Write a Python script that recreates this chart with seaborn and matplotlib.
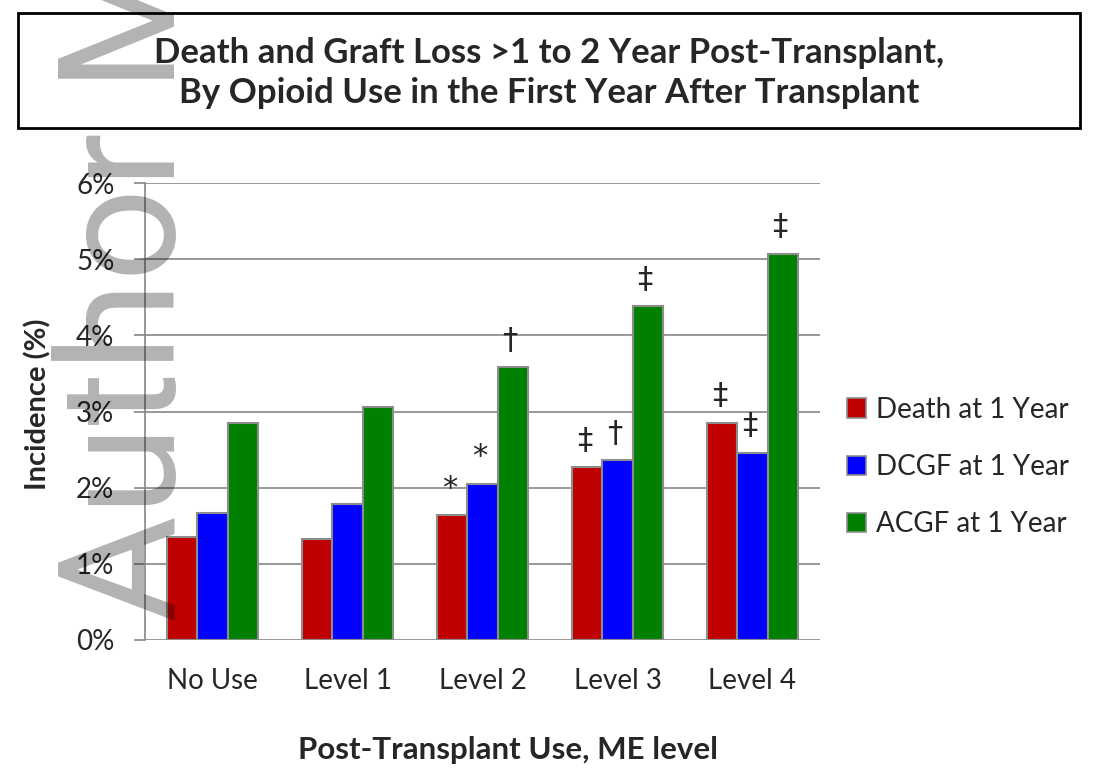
import matplotlib
matplotlib.use("Agg")
import matplotlib.pyplot as plt
import seaborn as sns
import pandas as pd
from matplotlib.patches import Rectangle, Patch

categories = ["No Use", "Level 1", "Level 2", "Level 3", "Level 4"]
series = ["Death at 1 Year", "DCGF at 1 Year", "ACGF at 1 Year"]
death = [1.35, 1.32, 1.64, 2.27, 2.85]
dcgf = [1.67, 1.79, 2.05, 2.36, 2.46]
acgf = [2.85, 3.06, 3.58, 4.38, 5.07]
marks_death = ["", "", "*", "‡", "‡"]
marks_dcgf = ["", "", "*", "†", "‡"]
marks_acgf = ["", "", "†", "‡", "‡"]
yticks = [0, 1, 2, 3, 4, 5, 6]
ytick_labels = ["0%", "1%", "2%", "3%", "4%", "5%", "6%"]
colors = ["#C00000", "#0000FF", "#008000"]
title = "Death and Graft Loss >1 to 2 Year Post-Transplant,\nBy Opioid Use in the First Year After Transplant"

sns.set_style("white")
plt.rcParams["font.family"] = ["Lato", "DejaVu Sans"]

rows = []
for s, vals in zip(series, [death, dcgf, acgf]):
    for c, v in zip(categories, vals):
        rows.append({"Category": c, "Series": s, "Value": v})
df = pd.DataFrame(rows)

fig = plt.figure(figsize=(10.95, 7.73), dpi=100)
ax = fig.add_axes([145 / 1095, 1 - 640 / 773, 675 / 1095, 457 / 773])

sns.barplot(data=df, x="Category", y="Value", hue="Series", order=categories,
            hue_order=series, palette=colors, saturation=1, width=0.667,
            edgecolor="#8c8c8c", linewidth=1.5, ax=ax, legend=False, zorder=3)

ax.set_ylim(0, 6)
ax.set_xlim(-0.5, 4.5)
ax.set_yticks(yticks)
ax.set_yticklabels(ytick_labels, fontsize=20)
ax.tick_params(axis="x", labelsize=20, length=0, pad=20)
ax.tick_params(axis="y", length=8, width=1.2, color="#868686", pad=14, direction="out", left=True)
ax.yaxis.grid(True, color="#868686", linewidth=1.2, zorder=0)
ax.set_axisbelow(True)
for side in ["top", "right", "bottom"]:
    ax.spines[side].set_visible(False)
ax.spines["left"].set_color("#868686")
ax.spines["left"].set_linewidth(1.2)
ax.set_xlabel("")
ax.set_ylabel("")
fig.text(38 / 1095, 1 - 404 / 773, "Incidence (%)", rotation=90, ha="center",
         va="center", fontsize=21, fontweight="bold")

for cont, marks in zip(ax.containers, [marks_death, marks_dcgf, marks_acgf]):
    for bar, m in zip(cont.patches, marks):
        if m:
            ax.annotate(m, (bar.get_x() + bar.get_width() / 2, bar.get_height()),
                        xytext=(-2, 9), textcoords="offset points",
                        ha="center", va="bottom", fontsize=22,
                        family=["DejaVu Sans"])

handles = [Patch(facecolor=c, edgecolor="#8c8c8c", linewidth=1.2) for c in colors]
fig.legend(handles, series, loc="center left", bbox_to_anchor=(822 / 1095, 1 - 467 / 773),
           frameon=False, fontsize=20, handlelength=0.7, handleheight=0.7,
           handletextpad=0.35, labelspacing=1.12)

fig.text(508 / 1095, 1 - 750 / 773, "Post-Transplant Use, ME level", ha="center",
         va="center", fontsize=22.5, fontweight="bold")

fig.patches.append(Rectangle((18 / 1095, 1 - 128 / 773), 1062 / 1095, 115 / 773,
                             transform=fig.transFigure, fill=False,
                             edgecolor="black", linewidth=2))
fig.text(549 / 1095, 1 - 73 / 773, title, ha="center", va="center",
         fontsize=25, fontweight="bold", linespacing=1.32)

fig.text(175 / 1095, 1 - 622 / 773, "Author Manuscript", rotation=90,
         rotation_mode="anchor", ha="left", va="baseline", fontsize=118,
         family=["Roboto", "DejaVu Sans"],
         color="black", alpha=0.3, zorder=10)

fig.savefig("out.png", dpi=100)
